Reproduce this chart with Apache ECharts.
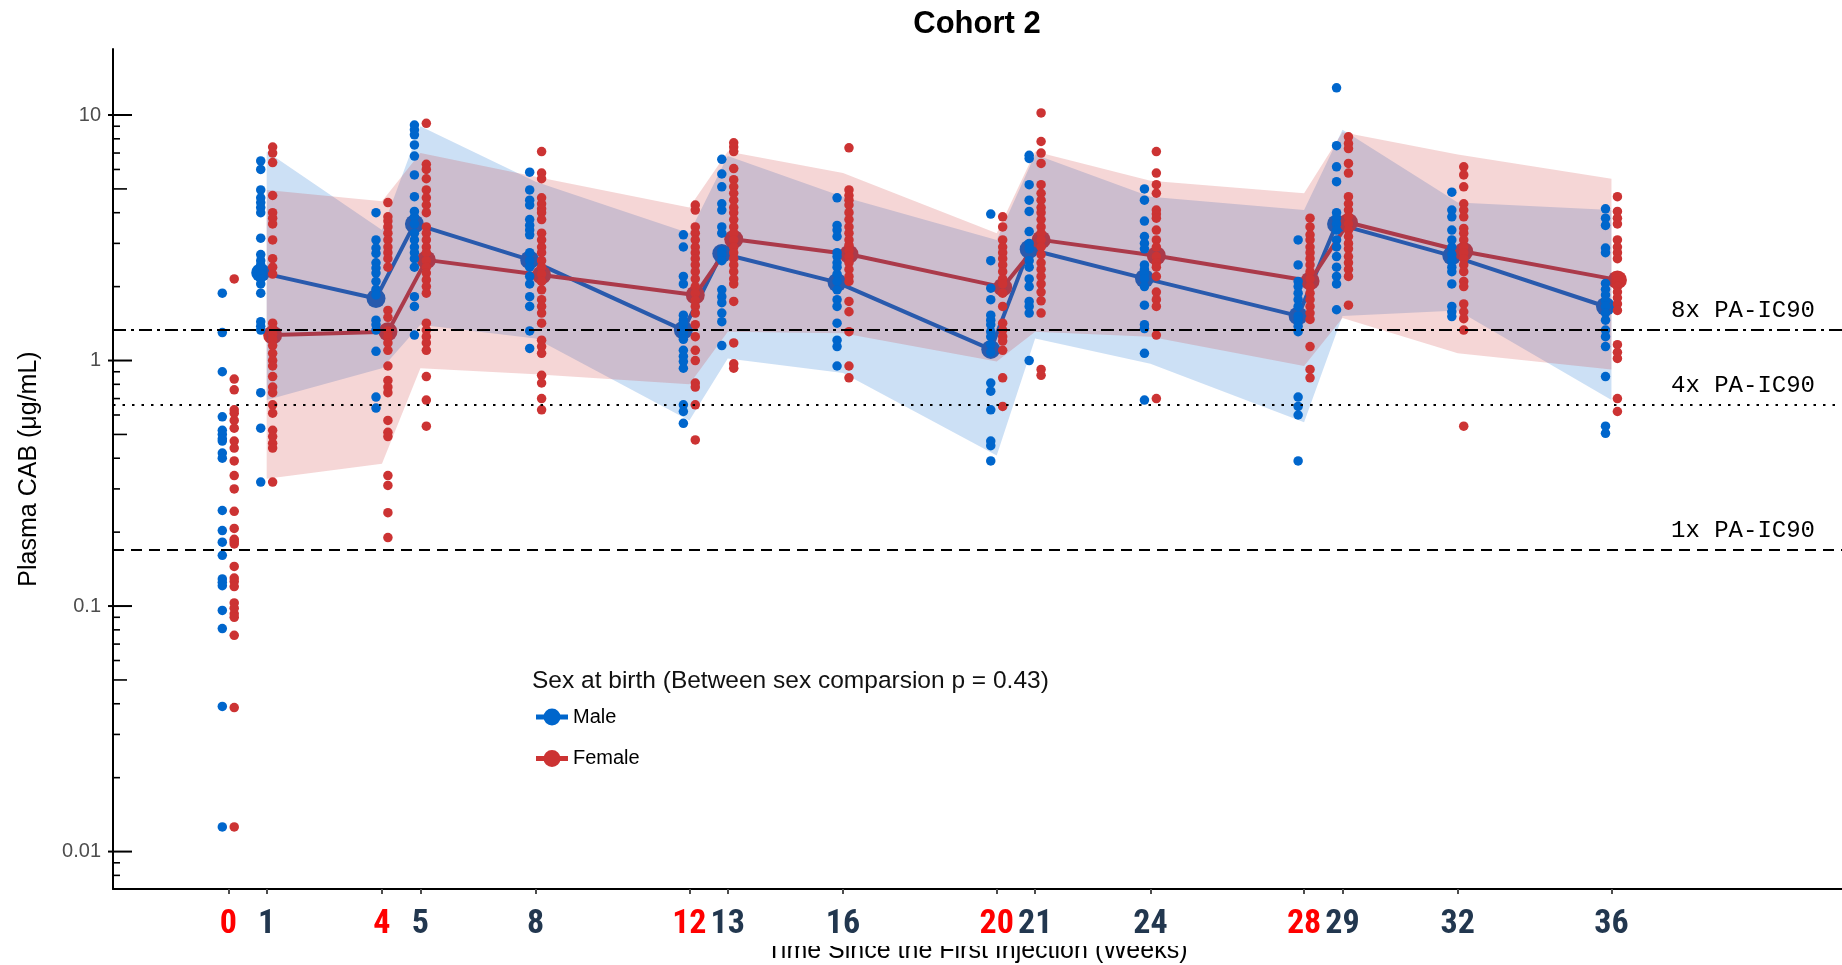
<!DOCTYPE html>
<html>
<head>
<meta charset="utf-8">
<script src="https://cdn.jsdelivr.net/npm/echarts@6/dist/echarts.min.js"></script>
<style>
  html, body { margin: 0; padding: 0; background: #fff; }
  #chart { width: 1842px; height: 965px; }
</style>
</head>
<body>
<div id="chart"></div>
<script>
// Sampling weeks (tick labels) and the weeks on which an injection was given
const weeks = [0, 1, 4, 5, 8, 12, 13, 16, 20, 21, 24, 28, 29, 32, 36];
const injectionWeeks = [0, 4, 12, 20, 28];

// Individual plasma CAB concentrations (ug/mL), one list per sampling week
const maleConc = [
  [1.88, 1.30, 0.90, 0.59, 0.52, 0.50, 0.48, 0.47, 0.42, 0.40, 0.245, 0.203, 0.182, 0.161, 0.129, 0.125, 0.121, 0.096, 0.081, 0.039, 0.0126],
  [6.5, 6.0, 4.95, 4.6, 4.4, 4.2, 4.0, 3.15, 2.7, 2.55, 2.45, 2.35, 2.25, 2.15, 2.05, 1.88, 1.44, 1.38, 1.33, 0.74, 0.53, 0.32],
  [4.0, 3.1, 2.87, 2.73, 2.5, 2.38, 2.27, 2.1, 1.95, 1.85, 1.46, 1.40, 1.33, 1.09, 0.71, 0.64],
  [9.1, 8.7, 8.3, 7.55, 6.8, 5.7, 4.65, 4.05, 3.85, 3.6, 3.3, 3.1, 2.9, 2.75, 2.6, 2.4, 1.82, 1.66, 1.27],
  [5.85, 4.95, 4.5, 4.3, 3.75, 3.55, 3.4, 3.25, 2.75, 2.55, 2.4, 2.2, 2.05, 1.82, 1.66, 1.32, 1.12],
  [3.25, 2.9, 2.2, 2.05, 1.53, 1.46, 1.40, 1.33, 1.28, 1.22, 1.10, 1.04, 0.99, 0.93, 0.66, 0.62, 0.555],
  [6.6, 5.75, 5.1, 4.35, 4.1, 3.5, 3.3, 2.8, 2.7, 2.55, 1.94, 1.82, 1.72, 1.56, 1.44, 1.15],
  [4.6, 3.55, 3.4, 3.2, 2.75, 2.65, 2.5, 2.4, 2.25, 2.1, 1.94, 1.77, 1.66, 1.42, 1.21, 1.14, 0.95],
  [3.95, 2.55, 1.97, 1.77, 1.53, 1.46, 1.40, 1.31, 1.25, 1.16, 1.08, 0.81, 0.75, 0.63, 0.47, 0.45, 0.39],
  [6.85, 6.65, 5.2, 4.5, 4.05, 3.35, 3.0, 2.85, 2.55, 2.4, 2.15, 2.0, 1.74, 1.66, 1.56, 1.0],
  [5.0, 4.5, 3.7, 3.2, 3.0, 2.85, 2.45, 2.35, 2.25, 2.15, 2.0, 1.68, 1.40, 1.35, 1.07, 0.69],
  [3.1, 2.45, 2.1, 2.0, 1.88, 1.77, 1.66, 1.52, 1.46, 1.38, 1.31, 0.71, 0.65, 0.60, 0.39],
  [12.9, 7.5, 6.15, 5.35, 4.0, 3.8, 3.6, 3.4, 3.1, 2.9, 2.65, 2.4, 2.2, 2.05, 1.61],
  [4.85, 4.1, 3.85, 3.4, 3.1, 2.9, 2.7, 2.55, 2.4, 2.3, 2.05, 1.66, 1.58, 1.51],
  [4.15, 3.8, 3.55, 2.87, 2.75, 2.06, 1.95, 1.85, 1.75, 1.66, 1.56, 1.46, 1.33, 1.25, 1.14, 0.86, 0.54, 0.505]
];
const femaleConc = [
  [2.15, 0.84, 0.76, 0.63, 0.61, 0.57, 0.53, 0.47, 0.44, 0.39, 0.34, 0.30, 0.243, 0.207, 0.187, 0.183, 0.179, 0.145, 0.130, 0.126, 0.120, 0.103, 0.098, 0.093, 0.090, 0.076, 0.0386, 0.0126],
  [7.4, 7.0, 6.4, 4.7, 4.0, 3.8, 3.6, 3.1, 2.6, 2.4, 2.25, 1.42, 1.35, 1.28, 1.22, 1.15, 1.07, 1.0, 0.95, 0.86, 0.78, 0.74, 0.66, 0.61, 0.52, 0.49, 0.46, 0.44, 0.32],
  [4.4, 3.85, 3.7, 3.5, 3.3, 3.1, 2.9, 2.75, 2.6, 2.4, 1.6, 1.5, 1.32, 1.25, 1.18, 1.1, 0.95, 0.83, 0.78, 0.74, 0.57, 0.51, 0.49, 0.34, 0.31, 0.24, 0.19],
  [9.25, 6.3, 6.0, 5.5, 4.95, 4.6, 4.3, 4.0, 3.5, 3.3, 3.1, 2.9, 2.75, 2.55, 2.4, 2.27, 2.13, 2.0, 1.88, 1.42, 1.33, 1.25, 1.18, 1.1, 0.86, 0.69, 0.54],
  [7.1, 5.8, 5.5, 4.6, 4.35, 4.15, 4.0, 3.75, 3.3, 3.1, 2.9, 2.75, 2.55, 2.4, 2.25, 2.1, 1.94, 1.77, 1.66, 1.56, 1.42, 1.21, 1.14, 1.07, 0.87, 0.81, 0.70, 0.63],
  [4.3, 4.1, 3.5, 3.3, 3.1, 2.9, 2.75, 2.6, 2.45, 2.3, 2.15, 2.0, 1.88, 1.76, 1.66, 1.56, 1.40, 1.25, 1.10, 1.0, 0.81, 0.78, 0.66, 0.475],
  [7.7, 7.4, 7.1, 6.05, 5.45, 5.1, 4.8, 4.5, 4.2, 4.0, 3.75, 3.5, 3.3, 3.1, 2.9, 2.75, 2.6, 2.45, 2.3, 2.15, 2.05, 1.74, 1.18, 0.97, 0.93],
  [7.35, 4.95, 4.7, 4.5, 4.3, 4.0, 3.75, 3.5, 3.3, 3.1, 2.95, 2.8, 2.65, 2.5, 2.35, 2.2, 2.1, 1.74, 1.58, 1.31, 0.95, 0.85],
  [3.85, 3.5, 3.1, 2.9, 2.75, 2.6, 2.45, 2.3, 2.15, 2.05, 1.88, 1.66, 1.42, 1.33, 1.25, 1.2, 1.1, 0.85, 0.65],
  [10.2, 7.8, 7.0, 6.35, 5.2, 4.8, 4.5, 4.2, 4.0, 3.75, 3.5, 3.3, 3.1, 2.9, 2.7, 2.5, 2.35, 2.2, 2.05, 1.9, 1.75, 1.56, 0.92, 0.87],
  [7.1, 5.8, 5.2, 4.8, 4.1, 3.95, 3.8, 3.4, 3.1, 2.9, 2.65, 2.5, 2.4, 2.2, 1.9, 1.77, 1.66, 1.27, 0.70],
  [3.8, 3.5, 3.25, 3.1, 2.9, 2.75, 2.6, 2.45, 2.3, 2.15, 2.0, 1.88, 1.77, 1.66, 1.56, 1.47, 1.14, 0.92, 0.85],
  [8.15, 7.65, 7.3, 6.35, 5.8, 4.65, 4.35, 4.1, 3.85, 3.6, 3.4, 3.2, 3.0, 2.85, 2.65, 2.5, 2.35, 2.2, 1.68],
  [6.15, 5.7, 5.1, 4.35, 4.1, 3.85, 3.45, 3.3, 3.1, 2.9, 2.75, 2.6, 2.45, 2.3, 2.1, 2.0, 1.7, 1.58, 1.48, 1.33, 0.54],
  [4.65, 4.05, 3.8, 3.6, 3.1, 2.9, 2.75, 2.6, 2.2, 2.1, 2.0, 1.9, 1.8, 1.7, 1.6, 1.16, 1.08, 1.02, 0.70, 0.62]
];

// Summary statistics from week 1 on: geometric mean and interval bounds
const meanWeeks   = [1, 4, 5, 8, 12, 13, 16, 20, 21, 24, 28, 29, 32, 36];
const maleMean    = [2.28, 1.79, 3.6, 2.57, 1.33, 2.73, 2.08, 1.11, 2.84, 2.16, 1.52, 3.6, 2.67, 1.66];
const femaleMean  = [1.27, 1.31, 2.57, 2.23, 1.85, 3.12, 2.71, 1.99, 3.1, 2.67, 2.11, 3.65, 2.78, 2.13];
const maleUpper   = [7.1, 3.4, 9.0, 5.35, 3.3, 6.8, 4.65, 3.1, 6.9, 4.65, 4.1, 8.7, 4.4, 4.1];
const maleLower   = [0.69, 0.93, 1.40, 1.23, 0.57, 1.02, 0.89, 0.41, 1.23, 0.97, 0.56, 1.52, 1.60, 0.69];
const femaleUpper = [4.95, 4.45, 7.0, 5.6, 4.2, 7.1, 5.8, 3.3, 7.1, 5.4, 4.8, 8.5, 6.9, 5.5];
const femaleLower = [0.33, 0.38, 0.93, 0.88, 0.80, 1.31, 1.29, 0.99, 1.31, 1.25, 0.95, 1.49, 1.07, 0.92];

// Protein-adjusted IC90 reference levels (ug/mL)
const refLevels = [0.166, 0.664, 1.328];
const refLabels = ['1x PA-IC90', '4x PA-IC90', '8x PA-IC90'];

// ---- layout / style ----
const X_MIN = -3, X_MAX = 42;
const Y_MIN = 0.00704, Y_MAX = 18.57;
const DODGE = 0.155;                 // horizontal offset of the two sexes, in weeks
const MALE = '#0066CC', FEMALE = '#CC3333';
const SANS = "'Liberation Sans', Arial, sans-serif";
const NARROW = "'Liberation Sans Narrow', 'Roboto Condensed', 'DejaVu Sans Condensed', sans-serif";
const MONO = "'Liberation Mono', 'DejaVu Sans Mono', monospace";
// legend key: a thick line segment with a dot in its middle (32 x 17 box)
const KEY_ICON = 'path://M0,6L32,6L32,11L0,11Z M24.5,8.5A8.5,8.5,0,1,1,7.5,8.5A8.5,8.5,0,1,1,24.5,8.5Z';

function pointsFor(conc, offset) {
  const out = [];
  weeks.forEach((w, i) => conc[i].forEach(v => out.push([w + offset, v])));
  return out;
}

function meanLine(name, means, offset, color) {
  return {
    type: 'line', name: name, z: 1, silent: true,
    data: meanWeeks.map((w, i) => [w + offset, means[i]]),
    symbol: 'circle', symbolSize: 19, showSymbol: true,
    lineStyle: { width: 4, color: color },
    itemStyle: { color: color, opacity: 1 }
  };
}

function ribbon(lower, upper, fill) {
  return {
    type: 'custom', z: 2, silent: true,
    data: meanWeeks.map((w, i) => [w, lower[i], upper[i]]),
    encode: { x: 0, y: [1, 2] },
    renderItem: function (params, api) {
      if (params.dataIndex !== 0) return null;
      const top = meanWeeks.map((w, i) => api.coord([w, upper[i]]));
      const bottom = meanWeeks.map((w, i) => api.coord([w, lower[i]])).reverse();
      return { type: 'polygon', shape: { points: top.concat(bottom) }, style: { fill: fill } };
    }
  };
}

// log-scale tick marks along the y axis (long at decades, medium at 5, short otherwise)
const logTicks = [];
for (let e = -3; e <= 1; e++) {
  for (let k = 1; k <= 9; k++) {
    const v = +(k * Math.pow(10, e)).toPrecision(3);
    if (v >= Y_MIN && v <= Y_MAX) logTicks.push([X_MIN, v, k]);
  }
}

const refLineTypes = [[11, 7], [2.5, 7], [13, 5, 3, 5]];

const option = {
  animation: false,
  backgroundColor: '#fff',
  textStyle: { fontFamily: SANS },
  grid: { left: 113, right: 0, top: 49, bottom: 76 },
  legend: {
    data: [{ name: 'Male', icon: KEY_ICON }, { name: 'Female', icon: KEY_ICON }],
    orient: 'vertical', left: 531, top: 702,
    itemWidth: 32, itemHeight: 17, itemGap: 21.5, selectedMode: false,
    textStyle: { fontSize: 20, color: '#000', fontFamily: SANS }
  },
  xAxis: {
    type: 'value', min: X_MIN, max: X_MAX, z: 10,
    splitLine: { show: false },
    axisLine: { show: true, onZero: false, lineStyle: { color: '#000', width: 2 } },
    axisTick: { show: true, customValues: weeks, length: 5, lineStyle: { color: '#4d4d4d', width: 2 } },
    axisLabel: {
      customValues: weeks, margin: 18, fontSize: 34, fontWeight: 'bold', fontFamily: NARROW,
      color: function (v) { return injectionWeeks.indexOf(Number(v)) >= 0 ? '#ff0000' : '#22374f'; }
    }
  },
  yAxis: {
    type: 'log', logBase: 10, min: Y_MIN, max: Y_MAX, z: 10,
    splitLine: { show: false },
    axisLine: { show: true, onZero: false, lineStyle: { color: '#000', width: 2 } },
    axisTick: { show: false },
    axisLabel: {
      showMinLabel: false, showMaxLabel: false, margin: 12,
      fontSize: 20, color: '#4d4d4d', fontFamily: SANS,
      formatter: function (v) { return String(+Number(v).toPrecision(6)); }
    }
  },
  graphic: [
    { type: 'text', x: 977, y: 24, z: 5,
      style: { text: 'Cohort 2', fontSize: 31, fontWeight: 'bold', fontFamily: SANS, fill: '#000', align: 'center', verticalAlign: 'middle' } },
    { type: 'text', x: 29, y: 469, rotation: Math.PI / 2, z: 5,
      style: { text: 'Plasma CAB (\u03bcg/mL)', fontSize: 25, fontFamily: SANS, fill: '#000', align: 'center', verticalAlign: 'middle' } },
    { type: 'text', x: 977, y: 951, z: 1,
      style: { text: 'Time Since the First Injection (Weeks)', fontSize: 25, fontFamily: SANS, fill: '#000', align: 'center', verticalAlign: 'middle' } },
    { type: 'rect', z: 2, shape: { x: 113, y: 897, width: 1729, height: 49 }, style: { fill: '#fff' } },
    { type: 'text', x: 532, y: 681, z: 5,
      style: { text: 'Sex at birth (Between sex comparsion p = 0.43)', fontSize: 24.5, fontFamily: SANS, fill: '#111', align: 'left', verticalAlign: 'middle' } }
  ],
  series: [
    meanLine('Male', maleMean, -DODGE, MALE),
    meanLine('Female', femaleMean, DODGE, FEMALE),
    ribbon(maleLower, maleUpper, 'rgba(0,102,204,0.2)'),
    ribbon(femaleLower, femaleUpper, 'rgba(204,51,51,0.2)'),
    {
      type: 'scatter', name: 'Male points', z: 3, silent: true,
      data: pointsFor(maleConc, -DODGE), symbolSize: 9.5,
      itemStyle: { color: MALE, opacity: 1 },
      markLine: {
        silent: true, symbol: ['none', 'none'], animation: false,
        data: refLevels.map((v, i) => ({
          yAxis: v,
          lineStyle: { color: '#000', width: 2, type: refLineTypes[i] },
          label: {
            show: true, position: 'insideEndTop', formatter: refLabels[i],
            fontFamily: MONO, fontSize: 24, color: '#000', distance: 7, padding: [0, 20, 0, 0]
          }
        }))
      }
    },
    {
      type: 'scatter', name: 'Female points', z: 3, silent: true,
      data: pointsFor(femaleConc, DODGE), symbolSize: 9.5,
      itemStyle: { color: FEMALE, opacity: 1 }
    },
    {
      type: 'custom', z: 11, silent: true, clip: false,
      data: logTicks, encode: { x: 0, y: 1 },
      renderItem: function (params, api) {
        const p = api.coord([X_MIN, api.value(1)]);
        const k = api.value(2);
        const len = k === 1 ? 19 : (k === 5 ? 14 : 7);
        const x0 = k === 1 ? p[0] - 5 : p[0];
        return { type: 'line', shape: { x1: x0, y1: p[1], x2: p[0] + len, y2: p[1] },
                 style: { stroke: '#000', lineWidth: k === 1 ? 2 : 1.6 } };
      }
    }
  ]
};

const chart = echarts.init(document.getElementById('chart'), null, { renderer: 'canvas' });
chart.setOption(option);
</script>
</body>
</html>
